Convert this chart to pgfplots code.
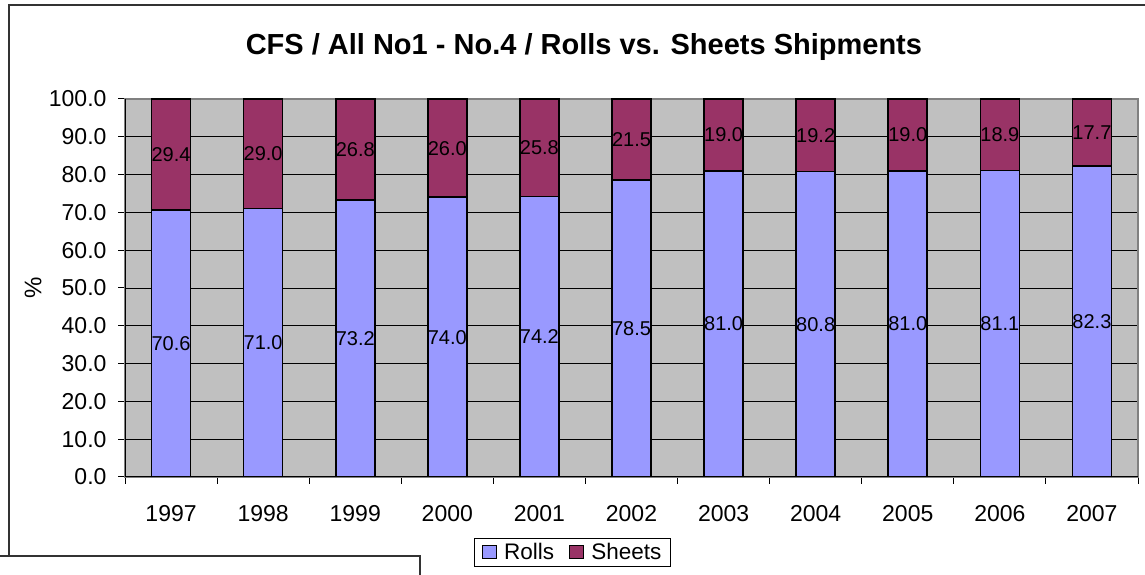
\documentclass[border=0pt]{standalone}
\usepackage{pgfplots}
\pgfplotsset{compat=1.18}
\usepackage{fontspec}
\setmainfont{Liberation Sans}
\definecolor{rollc}{HTML}{9999FF}
\definecolor{sheetc}{HTML}{993366}
\definecolor{plotbg}{HTML}{C0C0C0}
\begin{document}
\begin{tikzpicture}
\useasboundingbox (0,0) rectangle (1145pt,575pt);
\fill[white] (0,0) rectangle (1145pt,575pt);
\draw[line width=1.5pt, draw=black!80] (9pt,19pt) -- (9pt,570pt) -- (1146pt,570pt);
\begin{axis}[
  at={(125pt,98pt)}, anchor=south west,
  scale only axis, width=1013pt, height=378pt,
  ybar stacked, bar width=39pt,
  xmin=-0.5, xmax=10.5, ymin=0, ymax=100,
  xtick={0,...,10},
  xticklabels={1997,1998,1999,2000,2001,2002,2003,2004,2005,2006,2007},
  minor xtick={-0.5,0.5,...,10.5},
  ytick={0,10,...,100},
  xtick pos=bottom, ytick pos=left,
  tick align=outside,
  major tick length=7pt, minor tick length=7pt,
  major x tick style={draw=none},
  every tick/.style={black, line width=1pt},
  minor x tick style={black, line width=1pt},
  ymajorgrids, grid style={black, line width=0.9pt},
  axis background/.style={fill=plotbg},
  axis line style={draw=gray, line width=1.2pt},
  /pgf/number format/assume math mode=true,
  yticklabel={\pgfmathprintnumber[fixed,fixed zerofill,precision=1]{\tick}},
  tick label style={font=\fontsize{23}{27}\selectfont, text=black},
  yticklabel style={xshift=-8pt},
  xticklabel style={yshift=-18pt},
  ylabel={\%},
  ylabel style={at={(axis description cs:-0.0908,0.5)}, anchor=center, font=\fontsize{24}{28}\selectfont},
  title={CFS / All No1 - No.4 / Rolls vs. Sheets Shipments},
  title style={at={(axis description cs:0.453,1.122)}, anchor=center, font=\bfseries\fontsize{29}{34}\selectfont},
  visualization depends on=rawy \as \rawy,
  nodes near coords={\pgfmathprintnumber[fixed,fixed zerofill,precision=1]{\rawy}},
  every node near coord/.append style={anchor=center, font=\fontsize{20}{23}\selectfont, text=black},
  legend columns=2,
  legend style={at={(axis description cs:0.4418,-0.1997)}, anchor=center, draw=black, line width=1pt, fill=white,
    font=\fontsize{22.5}{26}\selectfont, inner xsep=7pt, inner ysep=3pt,
    /tikz/every even column/.append style={column sep=13pt}},
  legend image code/.code={\draw[#1,draw=black,line width=1pt] (0pt,-6.5pt) rectangle (14pt,6.5pt); \path (19pt,0pt);},
]
\addplot[fill=rollc, draw=black, line width=1.7pt] coordinates {
(0,70.6) (1,71.0) (2,73.2) (3,74.0) (4,74.2) (5,78.5) (6,81.0) (7,80.8) (8,81.0) (9,81.1) (10,82.3)};
\addplot[fill=sheetc, draw=black, line width=1.7pt] coordinates {
(0,29.4) (1,29.0) (2,26.8) (3,26.0) (4,25.8) (5,21.5) (6,19.0) (7,19.2) (8,19.0) (9,18.9) (10,17.7)};
\legend{Rolls,Sheets}
\draw[black, line width=1.2pt] (rel axis cs:0,1) -- (rel axis cs:0,0) -- (rel axis cs:1,0);
\end{axis}
\fill[white] (-1pt,-1pt) rectangle (420pt,19pt);
\draw[line width=1.2pt, black!80] (-1pt,19pt) -- (420pt,19pt) -- (420pt,-1pt);
\end{tikzpicture}
\end{document}
